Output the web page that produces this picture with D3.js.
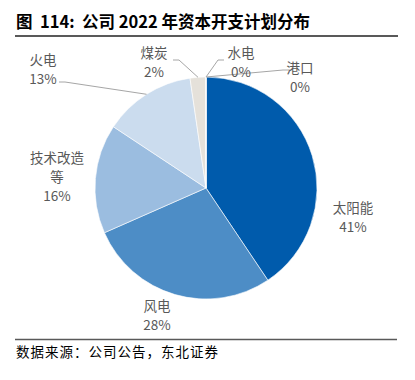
<!DOCTYPE html>
<html>
<head>
<meta charset="utf-8">
<script src="https://cdn.jsdelivr.net/npm/d3@7"></script>
<style>
  body { margin: 0; background: #fff; }
  svg { display: block; }
  .title { font-family: "Noto Sans CJK SC", sans-serif; font-weight: bold; font-size: 16.5px; fill: #000; white-space: pre; }
  .source { font-family: "Noto Sans CJK SC", sans-serif; font-size: 13.5px; letter-spacing: 1px; fill: #000; }
  .label { font-family: "Noto Sans CJK SC", sans-serif; font-size: 13.5px; fill: #595959; }
  .leader { fill: none; stroke: #a6a6a6; stroke-width: 1; }
</style>
</head>
<body>
<svg id="chart" width="415" height="380"></svg>
<script>
// data (share of capex, %)
var categories = ["太阳能", "风电", "技术改造等", "火电", "煤炭", "水电", "港口"];
var values = [40.6, 27.8, 15.9, 13.4, 2.3, 0, 0];
var pctLabels = ["41%", "28%", "16%", "13%", "2%", "0%", "0%"];
var nameLines = [["太阳能"], ["风电"], ["技术改造", "等"], ["火电"], ["煤炭"], ["水电"], ["港口"]];
var colors = ["#005bac", "#4d8dc6", "#9bbde0", "#cbdcee", "#e5e1da", "#d9d9d9", "#bfbfbf"];

// label placement (x centre, first baseline, leader start x, leader y, leader dir)
var labelLayout = [
  {x: 353, y: 213},
  {x: 157, y: 311},
  {x: 57, y: 163},
  {x: 43, y: 65, lx: 59, ly: 82, dir: 1},
  {x: 154, y: 58, lx: 173, ly: 60, dir: 1},
  {x: 241, y: 58, lx: 224, ly: 60, dir: -1},
  {x: 300, y: 73, lx: 289, ly: 70, dir: -1}
];

var svg = d3.select("#chart");
var cx = 206, cy = 188, r = 111;
var lineH = 19;

svg.append("text")
  .attr("class", "title")
  .attr("x", 16)
  .attr("y", 28)
  .text("图  114:  公司 2022 年资本开支计划分布");

svg.append("line")
  .attr("x1", 15).attr("x2", 398)
  .attr("y1", 36).attr("y2", 36)
  .attr("stroke", "#595959")
  .attr("stroke-width", 2);

svg.append("line")
  .attr("x1", 15).attr("x2", 397)
  .attr("y1", 339.5).attr("y2", 339.5)
  .attr("stroke", "#595959")
  .attr("stroke-width", 1.5);

svg.append("text")
  .attr("class", "source")
  .attr("x", 16)
  .attr("y", 357)
  .text("数据来源：公司公告，东北证券");

var pie = d3.pie().sort(null).value(function(d) { return d; });
var arcs = pie(values);

var arc = d3.arc().innerRadius(0).outerRadius(r);
var edge = d3.arc().innerRadius(r).outerRadius(r);

var g = svg.append("g")
  .attr("transform", "translate(" + cx + "," + cy + ")");

g.selectAll("path.slice")
  .data(arcs)
  .enter().append("path")
  .attr("class", "slice")
  .attr("d", arc)
  .attr("fill", function(d, i) { return colors[i]; })
  .attr("stroke", "#fff")
  .attr("stroke-width", 0.6);

// leader lines from label to the slice edge at its mid angle
arcs.forEach(function(d, i) {
  var lay = labelLayout[i];
  if (lay.lx == null) return;
  var p = edge.centroid(d);
  var pts = [[lay.lx, lay.ly], [lay.lx + lay.dir * 6, lay.ly], [cx + p[0], cy + p[1]]];
  svg.append("path")
    .attr("class", "leader")
    .attr("d", d3.line()(pts));
});

// labels
categories.forEach(function(c, i) {
  var lay = labelLayout[i];
  var lines = nameLines[i].concat([pctLabels[i]]);
  var t = svg.append("text")
    .attr("class", "label")
    .attr("text-anchor", "middle");
  lines.forEach(function(s, k) {
    t.append("tspan")
      .attr("x", lay.x)
      .attr("y", lay.y + k * lineH)
      .text(s);
  });
});
</script>
</body>
</html>
